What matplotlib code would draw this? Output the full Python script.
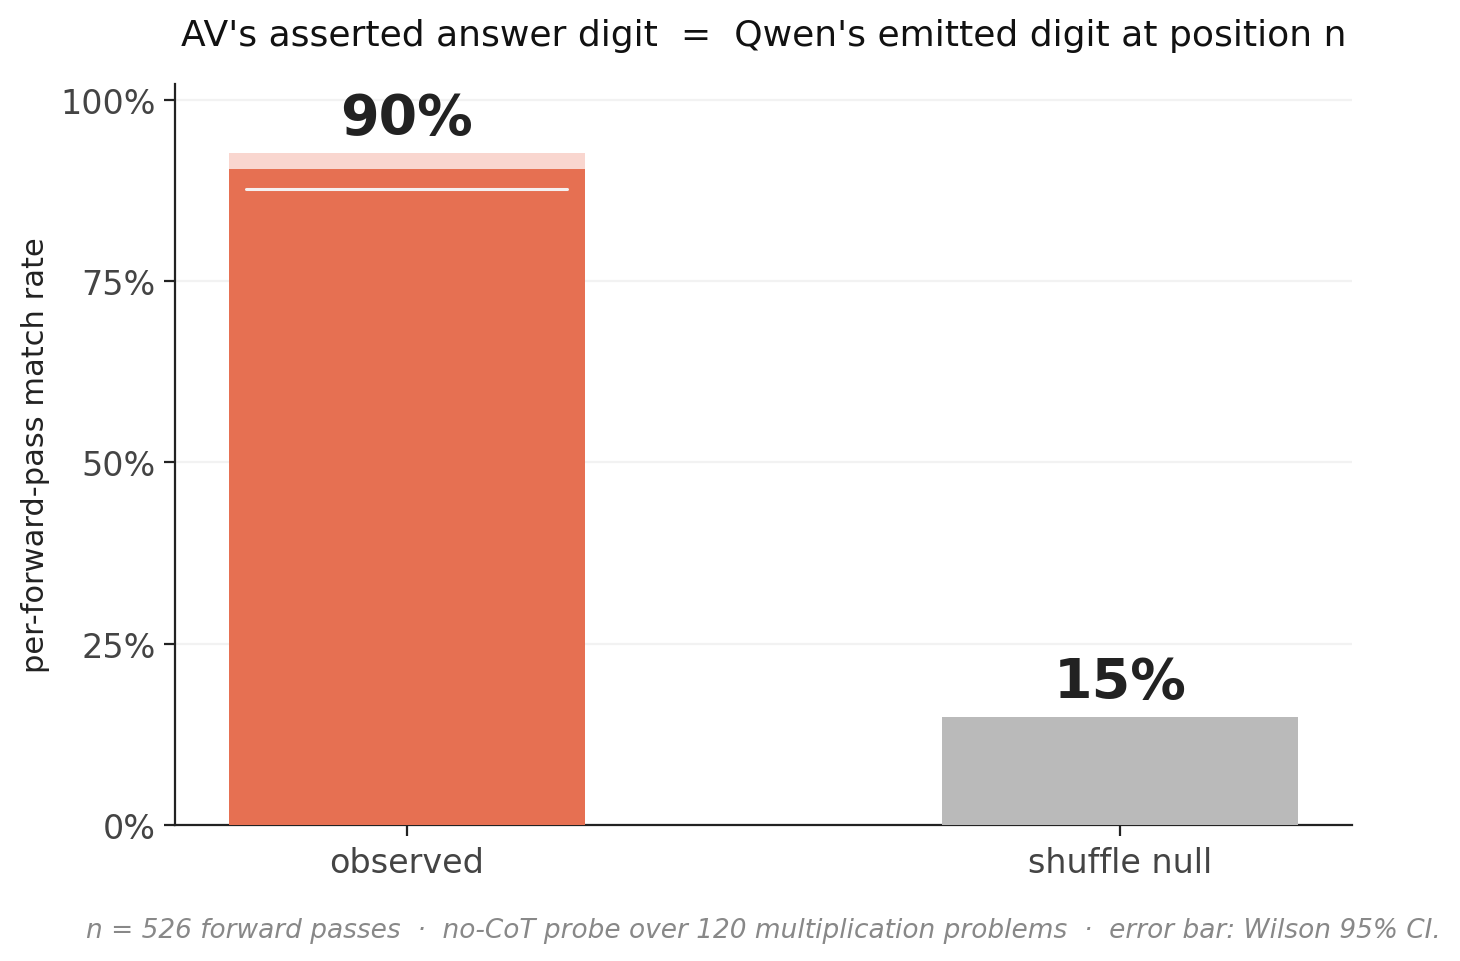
import matplotlib
matplotlib.use("Agg")
import matplotlib.pyplot as plt
from matplotlib.ticker import PercentFormatter

categories = ["observed", "shuffle null"]
rates = [0.905, 0.149]
labels = ["90%", "15%"]
ci_low = [0.877, None]
ci_high = [0.927, None]
bar_colors = ["#e67052", "#bababa"]
ci_color = "#f9d6cf"

title = "AV's asserted answer digit  =  Qwen's emitted digit at position n"
ylabel = "per-forward-pass match rate"
footer = ("n = 526 forward passes  \u00b7  no-CoT probe over 120 multiplication problems  "
          "\u00b7  error bar: Wilson 95% CI.")

plt.rcParams['font.family'] = ['DejaVu Sans']
fig = plt.figure(figsize=(7.3, 4.81), dpi=200)
ax = fig.add_axes([0.1199, 0.1414, 0.926 - 0.1199, 0.9116 - 0.1414])

x = list(range(len(categories)))
width = 0.5
for i in x:
    if ci_low[i] is not None:
        ax.bar(i, ci_high[i] - ci_low[i], bottom=ci_low[i], width=width,
               color=ci_color, zorder=2, linewidth=0)
    ax.bar(i, rates[i], width=width, color=bar_colors[i], zorder=3, linewidth=0)
    if ci_low[i] is not None:
        ax.hlines(ci_low[i], i - 0.225, i + 0.225, colors="#f5f0f0", linewidth=1.1,
                  zorder=4, capstyle="round")
    top = max(rates[i], ci_high[i] if ci_high[i] is not None else 0)
    ax.annotate(labels[i], (i, top), xytext=(0, 2.8), textcoords="offset points",
                ha="center", va="bottom", fontsize=20, fontweight="bold",
                color="#222222", zorder=5)

ax.set_xlim(-0.325, 1.325)
ax.set_ylim(0, 1.022)
ax.set_yticks([0, 0.25, 0.5, 0.75, 1.0])
ax.yaxis.set_major_formatter(PercentFormatter(1.0, decimals=0))
ax.set_xticks(x)
ax.set_xticklabels(categories)
ax.tick_params(axis="both", labelsize=12, colors="#444444", length=4, width=0.8)
ax.tick_params(axis="y", pad=3)
ax.tick_params(axis="both", color="#222222")
ax.grid(axis="y", color="#f2f2f2", linewidth=0.8, zorder=0)
ax.set_axisbelow(True)
for s in ["top", "right"]:
    ax.spines[s].set_visible(False)
for s in ["left", "bottom"]:
    ax.spines[s].set_color("#222222")
    ax.spines[s].set_linewidth(0.8)

ax.set_ylabel(ylabel, fontsize=11, color="#222222", labelpad=3.5)
ax.set_title(title, fontsize=13, color="#111111", pad=14)
fig.text(0.5226, 0.032, footer, ha="center", va="center", fontsize=9.5,
         style="italic", color="#888888")

fig.savefig("out.png", dpi=200)
